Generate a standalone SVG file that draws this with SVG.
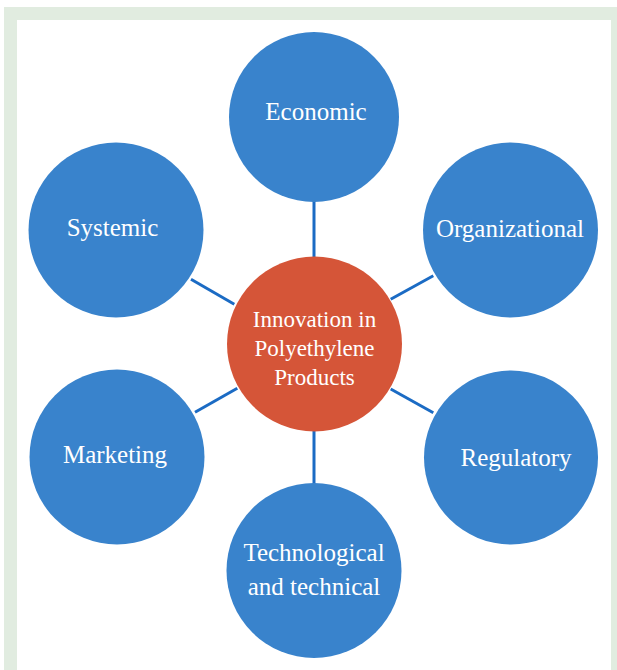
<svg xmlns="http://www.w3.org/2000/svg" width="617" height="670" viewBox="0 0 617 670">
  <style>
    .node { fill: #3983CC; }
    .hub { fill: #D55538; }
    .lbl { font-family: "Liberation Serif", "Times New Roman", serif; font-size: 25px; fill: #FFFFFF; text-anchor: middle; }
    .hublbl { font-family: "Liberation Serif", "Times New Roman", serif; font-size: 23px; fill: #FFFFFF; text-anchor: middle; }
    .conn line { stroke: #1B6BC4; stroke-width: 3; }
  </style>
  <rect x="0" y="0" width="617" height="670" fill="#FFFFFF"/>
  <rect x="4" y="7" width="620" height="670" fill="#E1ECE0"/>
  <rect x="17" y="20" width="594" height="660" fill="#FFFFFF"/>
  <g id="connectors" class="conn">
    <line x1="314" y1="201" x2="314" y2="257"/>
    <line x1="314" y1="431" x2="314" y2="484"/>
    <line x1="191" y1="279.3" x2="234.3" y2="304.3"/>
    <line x1="390.7" y1="299.3" x2="433.3" y2="275.7"/>
    <line x1="195" y1="412.3" x2="237.3" y2="388.3"/>
    <line x1="390.7" y1="389" x2="433.3" y2="412.7"/>
  </g>
  <g id="hub">
    <circle class="hub" cx="314.5" cy="344" r="87.5"/>
    <text class="hublbl" x="314.5" y="327">Innovation in</text>
    <text class="hublbl" x="314.5" y="356">Polyethylene</text>
    <text class="hublbl" x="314.5" y="385">Products</text>
  </g>
  <g id="economic">
    <circle class="node" cx="314" cy="117" r="85"/>
    <text class="lbl" x="316" y="120">Economic</text>
  </g>
  <g id="organizational">
    <circle class="node" cx="510.5" cy="230" r="87.5"/>
    <text class="lbl" x="510" y="237">Organizational</text>
  </g>
  <g id="regulatory">
    <circle class="node" cx="511" cy="457.5" r="87"/>
    <text class="lbl" x="516" y="466">Regulatory</text>
  </g>
  <g id="technological">
    <circle class="node" cx="314" cy="570.5" r="87.5"/>
    <text class="lbl" x="314" y="561">Technological</text>
    <text class="lbl" x="314" y="595">and technical</text>
  </g>
  <g id="marketing">
    <circle class="node" cx="117" cy="457" r="87.5"/>
    <text class="lbl" x="115" y="463">Marketing</text>
  </g>
  <g id="systemic">
    <circle class="node" cx="116" cy="230" r="87.5"/>
    <text class="lbl" x="112.5" y="236">Systemic</text>
  </g>
</svg>
